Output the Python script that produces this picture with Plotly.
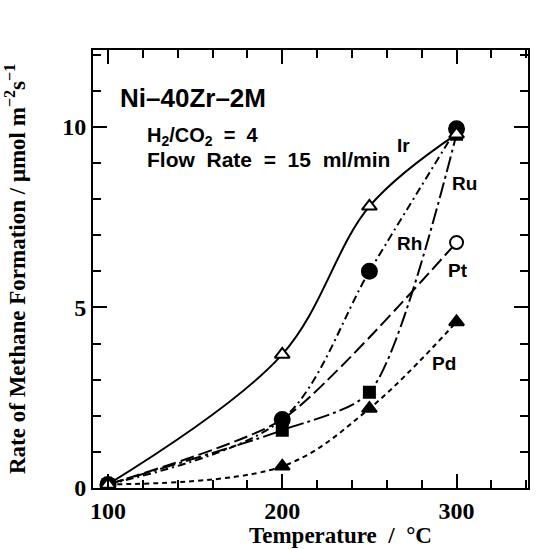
import plotly.graph_objects as go

temps = [100, 200, 250, 300]
temps_pt = [100, 200, 300]
ir = [0.1, 3.7, 7.8, 9.8]
rh = [0.1, 1.9, 6.0, 9.95]
ru = [0.1, 1.6, 2.65, 9.8]
pt = [0.1, 1.9, 6.8]
pd_ = [0.1, 0.6, 2.2, 4.6]

x_ticks = [100, 200, 300]
y_ticks = [0, 5, 10]

fig = go.Figure()

def add(x, y, dash, symbol, fill, size, name, smoothing=1.0):
    fig.add_trace(go.Scatter(
        x=x, y=y, mode="lines+markers", name=name,
        line=dict(color="black", width=2, dash=dash, shape="spline", smoothing=smoothing),
        marker=dict(symbol=symbol, size=size, color=fill, line=dict(color="black", width=2)),
        showlegend=False))

add(temps, pd_, "5px,4px", "triangle-up", "black", 13, "Pd")
add(temps, ru, "16px,4px,3px,4px", "square", "black", 11, "Ru", smoothing=0.7)
add(temps_pt, pt, "14px,5px", "circle", "white", 13, "Pt", smoothing=0.6)
add(temps, rh, "8px,4px,2px,4px", "circle", "black", 15, "Rh", smoothing=0.9)
add(temps, ir, "solid", "triangle-up", "white", 13, "Ir")

serif = "Liberation Serif"
sans = "Liberation Sans"

ax_common = dict(showline=True, linewidth=2, linecolor="black", mirror="allticks",
                 ticks="inside", ticklen=14, tickwidth=2, tickcolor="black",
                 showgrid=False, zeroline=False,
                 tickfont=dict(family=serif, size=24, color="black", weight="bold"))

fig.update_layout(
    width=537, height=549,
    margin=dict(l=93, r=7, t=50, b=61),
    paper_bgcolor="white", plot_bgcolor="white",
    xaxis=dict(range=[91.4, 341], tickvals=x_ticks,
               minor=dict(dtick=20, ticks="inside", ticklen=8, tickwidth=2, tickcolor="black"),
               **ax_common),
    yaxis=dict(range=[0, 12.13], tickvals=y_ticks,
               minor=dict(dtick=1, ticks="inside", ticklen=8, tickwidth=2, tickcolor="black"),
               **ax_common),
)

annots = [
    dict(x=0.57, y=0, xref="paper", yref="paper", yshift=-62, xanchor="center", yanchor="bottom",
         text="Temperature  /  °C", font=dict(family=serif, size=23, weight="bold")),
    dict(x=0, y=0.5, xref="paper", yref="paper", xshift=-78, textangle=-90,
         xanchor="center", yanchor="middle",
         text="Rate of Methane Formation / μmol m<sup>−2</sup>s<sup>−1</sup>",
         font=dict(family=serif, size=23, weight="bold")),
    dict(x=105.7, y=10.8, xanchor="left", yanchor="middle", text="Ni–40Zr–2M",
         font=dict(family=sans, size=26, weight="bold")),
    dict(x=121, y=9.74, xanchor="left", yanchor="middle", text="H<sub>2</sub>/CO<sub>2</sub>  =  4",
         font=dict(family=sans, size=20, weight="bold")),
    dict(x=121, y=9.1, xanchor="left", yanchor="middle", text="Flow  Rate  =  15  ml/min",
         font=dict(family=sans, size=21, weight="bold")),
    dict(x=269.7, y=9.49, text="Ir", font=dict(family=sans, size=19, weight="bold")),
    dict(x=304.5, y=8.44, text="Ru", font=dict(family=sans, size=19, weight="bold")),
    dict(x=273, y=6.78, text="Rh", font=dict(family=sans, size=19, weight="bold")),
    dict(x=301, y=6.03, text="Pt", font=dict(family=sans, size=19, weight="bold")),
    dict(x=292.6, y=3.46, text="Pd", font=dict(family=sans, size=19, weight="bold")),
]
for a in annots:
    a.setdefault("showarrow", False)
    a["font"]["color"] = "black"
    if "xref" not in a:
        a["xref"] = "x"; a["yref"] = "y"
    fig.add_annotation(**a)

fig.write_html("out.html")
